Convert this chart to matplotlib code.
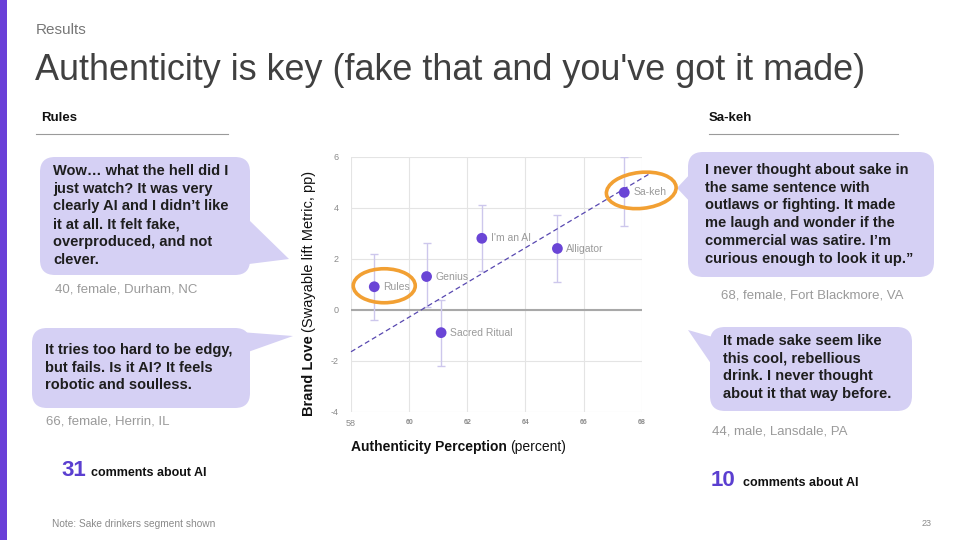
import matplotlib
matplotlib.use("Agg")
import matplotlib.pyplot as plt
from matplotlib.patches import FancyBboxPatch, Polygon, Ellipse, Rectangle

plt.rcParams['font.family'] = ['Liberation Sans', 'DejaVu Sans']
plt.rcParams['axes.unicode_minus'] = False

# ---------------- data ----------------
ads = ["Rules", "Genius", "Sacred Ritual", "I'm an AI", "Alligator", "Sa-keh"]
authenticity = [58.8, 60.6, 61.1, 62.5, 65.1, 67.4]
brand_love = [0.9, 1.3, -0.9, 2.8, 2.4, 4.6]
ci_low = [-0.4, 0.1, -2.2, 1.5, 1.1, 3.3]
ci_high = [2.2, 2.6, 0.4, 4.1, 3.7, 6.0]
trend_x = [58.0, 68.3]
trend_y = [-1.65, 5.35]
x_ticks = [58, 60, 62, 64, 66, 68]
y_ticks = [-4, -2, 0, 2, 4, 6]
highlighted = ["Rules", "Sa-keh"]

title = "Authenticity is key (fake that and you've got it made)"
section = "Results"
left_head = "Rules"
right_head = "Sa-keh"
quotes_left = [
    "Wow… what the hell did I\njust watch? It was very\nclearly AI and I didn’t like\nit at all. It felt fake,\noverproduced, and not\nclever.",
    "It tries too hard to be edgy,\nbut fails. Is it AI? It feels\nrobotic and soulless.",
]
who_left = ["40, female, Durham, NC", "66, female, Herrin, IL"]
quotes_right = [
    "I never thought about sake in\nthe same sentence with\noutlaws or fighting. It made\nme laugh and wonder if the\ncommercial was satire. I’m\ncurious enough to look it up.”",
    "It made sake seem like\nthis cool, rebellious\ndrink. I never thought\nabout it that way before.",
]
who_right = ["68, female, Fort Blackmore, VA", "44, male, Lansdale, PA"]
ai_counts = [31, 10]
note = "Note: Sake drinkers segment shown"
page = "23"

PURPLE = "#6a45d6"
BUBBLE = "#d5d0f4"
ORANGE = "#f2a033"

fig = plt.figure(figsize=(9.6, 5.4), dpi=100)
fig.patch.set_facecolor("white")

# background overlay in pixel coords (y down)
bg = fig.add_axes([0, 0, 1, 1], zorder=0)
bg.set_xlim(0, 960); bg.set_ylim(540, 0); bg.axis("off")

bg.add_patch(Rectangle((0, 0), 7, 540, color="#6a3fd8", lw=0))
bg.text(36, 30, section, fontsize=11, color="#777777", va="center", ha="left")
bg.text(35, 70, title, fontsize=25.9, color="#404040", va="center", ha="left")

# headers
bg.text(41, 118, left_head, fontsize=9.5, fontweight="bold", color="#111", va="center")
bg.plot([36, 228], [134, 134], color="#9a9a9a", lw=0.8)
bg.text(709, 118, right_head, fontsize=9.5, fontweight="bold", color="#111", va="center")
bg.plot([709, 898], [134, 134], color="#9a9a9a", lw=0.8)

def bubble(x0, y0, x1, y1, tail):
    bg.add_patch(FancyBboxPatch((x0, y0), x1 - x0, y1 - y0,
                                boxstyle="round,pad=0,rounding_size=15",
                                fc=BUBBLE, ec="none", lw=0))
    bg.add_patch(Polygon(tail, closed=True, fc=BUBBLE, ec="none", lw=0))

bubble(40, 157, 250, 275, [(249, 220), (289, 259), (249, 264)])
bubble(32, 328, 250, 408, [(240, 332), (293, 336), (248, 352)])
bubble(688, 152, 934, 277, [(692, 172), (677, 188), (692, 204)])
bubble(710, 327, 912, 411, [(716, 338), (688, 330), (718, 374)])

qkw = dict(fontsize=10.5, fontweight="bold", color="#1e1e1e", va="top", ha="left", linespacing=1.34)
bg.text(53, 164, quotes_left[0], **qkw)
bg.text(45, 343, quotes_left[1], **qkw)
bg.text(705, 163, quotes_right[0], **qkw)
bg.text(723, 334, quotes_right[1], **qkw)

wkw = dict(fontsize=9.5, color="#9a9a9a", va="center", ha="left")
bg.text(55, 289, who_left[0], **wkw)
bg.text(46, 422, who_left[1], **wkw)
bg.text(721, 296, who_right[0], **wkw)
bg.text(712, 431, who_right[1], **wkw)

bg.text(61, 476, str(ai_counts[0]), fontsize=16, fontweight="bold", color="#5b3fd0", va="baseline")
bg.text(91, 476, "comments about AI", fontsize=9, fontweight="bold", color="#111", va="baseline")
bg.text(711, 486, str(ai_counts[1]), fontsize=16, fontweight="bold", color="#5b3fd0", va="baseline")
bg.text(743, 486, "comments about AI", fontsize=9, fontweight="bold", color="#111", va="baseline")

bg.text(52, 524, note, fontsize=7.3, color="#8a8a8a", va="center")
bg.text(932, 524, page, fontsize=6.5, color="#8a8a8a", va="center", ha="right")

# ---------------- chart ----------------
L, R, T, B = 351, 641.7, 156.7, 411.7
ax = fig.add_axes([L / 960, 1 - B / 540, (R - L) / 960, (B - T) / 540], zorder=2)
ax.set_facecolor("none")
ax.set_xlim(58, 68); ax.set_ylim(-4, 6)
ax.set_xticks(x_ticks); ax.set_yticks(y_ticks)
ax.grid(True, color="#e4e4e4", lw=0.8)
ax.set_axisbelow(True)
for s in ax.spines.values():
    s.set_visible(False)
ax.tick_params(length=0, colors="#8a8a8a")
ax.tick_params(axis="y", labelsize=6.5, pad=9)
ax.tick_params(axis="x", labelsize=5, pad=5)
for lab in ax.get_xticklabels():
    lab.set_fontweight("bold")
xl = ax.get_xticklabels()
xl[0].set_fontweight("normal"); xl[0].set_fontsize(6.5)
ax.axhline(0, color="#a8a8a8", lw=1.5, zorder=1)

yerr = [[b - l for b, l in zip(brand_love, ci_low)], [h - b for b, h in zip(brand_love, ci_high)]]
ax.errorbar(authenticity, brand_love, yerr=yerr, fmt="none", ecolor="#cdc7ec",
            elinewidth=1, capsize=3, capthick=1, zorder=2)
ax.plot(trend_x, trend_y, color="#5848b0", lw=0.9, ls=(0, (4, 2.5)), zorder=3, clip_on=False)
ax.scatter(authenticity, brand_love, s=60, color=PURPLE, zorder=5, edgecolors="none")
for name, x, y in zip(ads, authenticity, brand_love):
    ax.annotate(name, (x, y), xytext=(6.5, 0), textcoords="offset points",
                va="center", ha="left", fontsize=7.5, color="#9a9a9a", zorder=6)

# axis titles with mixed weights (pixel coords on the overlay)
fig.canvas.draw()
renderer = fig.canvas.get_renderer()

fg = fig.add_axes([0, 0, 1, 1], zorder=5)
fg.set_xlim(0, 960); fg.set_ylim(540, 0); fg.axis("off"); fg.patch.set_alpha(0)

t1 = fg.text(351, 447, "Authenticity Perception", fontsize=10, fontweight="bold", color="#111", va="center")
w1 = t1.get_window_extent(renderer).width
fg.text(351 + w1 + 3.5, 447, "(percent)", fontsize=10, color="#111", va="center")

ty = fg.text(309, 416, "Brand Love", fontsize=10.5, fontweight="bold", color="#111",
             va="center", ha="left", rotation=90, rotation_mode="anchor")
h1 = ty.get_window_extent(renderer).height
fg.text(309, 416 - h1 - 3.5, "(Swayable lift Metric, pp)", fontsize=10.5, color="#111",
        va="center", ha="left", rotation=90, rotation_mode="anchor")

# orange highlight ellipses around selected points
def to_px(x, y):
    dx, dy = ax.transData.transform((x, y))
    return dx, 540 - dy

ell_style = {"Rules": (10, -1, 62, 34, 0), "Sa-keh": (17, -2, 70, 36, -6)}
for name, x, y in zip(ads, authenticity, brand_love):
    if name in highlighted:
        px, py = to_px(x, y)
        ox, oy, w, h, ang = ell_style[name]
        fg.add_patch(Ellipse((px + ox, py + oy), w, h, angle=ang,
                             fc="none", ec=ORANGE, lw=2.6))

fig.savefig("out.png", dpi=100, facecolor="white")
